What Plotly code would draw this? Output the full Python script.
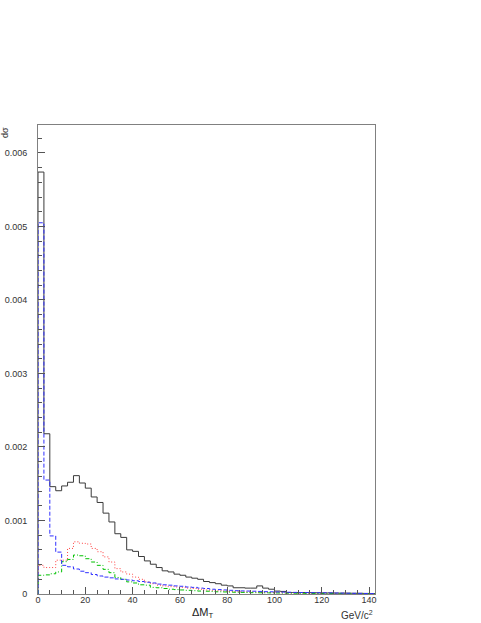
import plotly.graph_objects as go

bin_width = 2.5
n_bins = 57
edges = [i * bin_width for i in range(n_bins + 1)]

# values in units of 1e-3 (dsigma)
total = [5.74, 2.18, 1.46, 1.405, 1.47, 1.52, 1.61, 1.51, 1.44, 1.32,
         1.245, 1.10, 0.98, 0.82, 0.77, 0.60, 0.58, 0.51, 0.45, 0.405,
         0.36, 0.315, 0.30, 0.27, 0.255, 0.23, 0.215, 0.20, 0.17, 0.155,
         0.14, 0.12, 0.11, 0.085, 0.085, 0.08, 0.08, 0.11, 0.08, 0.065,
         0.04, 0.035, 0.02, 0.02, 0.02, 0.02, 0.018, 0.016, 0.015, 0.015,
         0.013, 0.012, 0.012, 0.010, 0.010, 0.008, 0.006]
blue = [5.05, 1.55, 0.79, 0.57, 0.39, 0.37, 0.34, 0.31, 0.29, 0.265,
        0.245, 0.23, 0.22, 0.205, 0.20, 0.19, 0.18, 0.17, 0.16, 0.15,
        0.135, 0.125, 0.12, 0.11, 0.105, 0.095, 0.09, 0.08, 0.075, 0.065,
        0.06, 0.055, 0.05, 0.045, 0.042, 0.04, 0.038, 0.035, 0.032, 0.03,
        0.028, 0.026, 0.024, 0.022, 0.02, 0.019, 0.018, 0.017, 0.016, 0.015,
        0.013, 0.012, 0.010, 0.009, 0.008, 0.006, 0.005]
red = [0.39, 0.36, 0.36, 0.46, 0.46, 0.62, 0.71, 0.69, 0.68, 0.62,
       0.575, 0.505, 0.435, 0.345, 0.30, 0.27, 0.23, 0.20, 0.165, 0.14,
       0.12, 0.11, 0.10, 0.095, 0.09, 0.08, 0.075, 0.065, 0.055, 0.05,
       0.045, 0.04, 0.035, 0.032, 0.03, 0.028, 0.026, 0.024, 0.022, 0.02,
       0.018, 0.016, 0.015, 0.014, 0.013, 0.012, 0.011, 0.010, 0.009, 0.008,
       0.007, 0.006, 0.006, 0.005, 0.004, 0.004, 0.003]
green = [0.255, 0.26, 0.275, 0.30, 0.44, 0.47, 0.53, 0.52, 0.48, 0.435,
         0.39, 0.335, 0.29, 0.225, 0.20, 0.165, 0.15, 0.125, 0.12, 0.09,
         0.085, 0.075, 0.065, 0.06, 0.055, 0.05, 0.045, 0.04, 0.038, 0.035,
         0.03, 0.028, 0.026, 0.024, 0.022, 0.02, 0.018, 0.017, 0.016, 0.015,
         0.014, 0.013, 0.012, 0.011, 0.010, 0.009, 0.008, 0.007, 0.006, 0.006,
         0.005, 0.005, 0.004, 0.004, 0.003, 0.003, 0.003]

y_tickvals = [0, 0.001, 0.002, 0.003, 0.004, 0.005, 0.006]
y_ticktext = ["0", "0.001", "0.002", "0.003", "0.004", "0.005", "0.006"]
x_tickvals = [0, 20, 40, 60, 80, 100, 120, 140]
x_ticktext = [str(v) for v in x_tickvals]

def step(vals):
    v = [x * 1e-3 for x in vals]
    xs = [edges[0]] + edges
    ys = [0.0] + v + [v[-1]]
    return xs, ys

fig = go.Figure()
series = [
    (total, "#3a3a3a", "solid"),
    (red, "#ff4040", "1px,2px"),
    (green, "#00c000", "4px,2px,1px,2px"),
    (blue, "#3030ff", "4px,2px"),
]
for vals, col, dash in series:
    xs, ys = step(vals)
    fig.add_trace(go.Scatter(x=xs, y=ys, mode="lines", line_shape="hv",
                             line=dict(color=col, width=1, dash=dash),
                             showlegend=False, hoverinfo="skip"))

axis_common = dict(showgrid=False, zeroline=False, showline=True, mirror=True,
                   linecolor="#808080", linewidth=1, ticks="inside",
                   tickcolor="#555555", tickwidth=1, ticklen=7, automargin=False,
                   tickfont=dict(family="Liberation Sans, Arial", size=9, color="#333333"))

fig.update_xaxes(range=[0, 142.5], tickvals=x_tickvals, ticktext=x_ticktext,
                 minor=dict(dtick=5, tick0=0, ticks="inside", ticklen=4,
                            tickcolor="#555555", tickwidth=1),
                 ticklabelstandoff=-3,
                 **axis_common)
fig.update_yaxes(range=[0, 0.00638], tickvals=y_tickvals, ticktext=y_ticktext,
                 minor=dict(dtick=0.0002, tick0=0, ticks="inside", ticklen=4,
                            tickcolor="#555555", tickwidth=1),
                 ticklabelstandoff=8,
                 **axis_common)

fig.add_annotation(text="dσ", xref="paper", yref="paper", x=-0.098, y=0.985,
                   xanchor="center", yanchor="middle", textangle=-90, showarrow=False,
                   font=dict(family="Liberation Sans, Arial", size=9, color="#333333"))
fig.add_annotation(text="ΔM<sub>T</sub>", xref="paper", yref="paper", x=0.49, y=-0.041,
                   xanchor="center", yanchor="middle", showarrow=False,
                   font=dict(family="Liberation Sans, Arial", size=11, color="#222222"))
fig.add_annotation(text="GeV/c<sup>2</sup>", xref="paper", yref="paper", x=1.0, y=-0.045,
                   xanchor="right", yanchor="middle", showarrow=False,
                   font=dict(family="Liberation Sans, Arial", size=10, color="#333333"))

fig.update_layout(width=481, height=623, plot_bgcolor="white", paper_bgcolor="white",
                  margin=dict(l=38, r=106, t=125, b=29), showlegend=False)

fig.write_html("out.html", config={"displayModeBar": False},
               post_script="document.body.style.margin='0px';")
